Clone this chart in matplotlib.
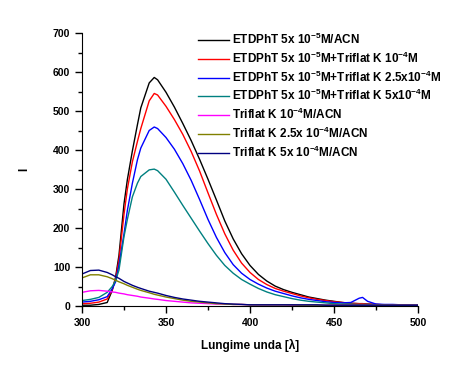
import matplotlib
matplotlib.use('Agg')
import matplotlib.pyplot as plt
from matplotlib.ticker import MultipleLocator

plt.rcParams['font.family'] = 'Liberation Sans'
plt.rcParams['font.weight'] = 'bold'
plt.rcParams['mathtext.fontset'] = 'custom'
plt.rcParams['mathtext.rm'] = 'Liberation Sans:bold'
plt.rcParams['mathtext.default'] = 'rm'

# wavelength grid (nm)
wl = [300, 305, 310, 315, 318, 320, 322, 325, 327, 330, 333, 335, 340, 343,
      345, 350, 355, 360, 365, 370, 375, 380, 385, 390, 395, 400, 405, 410,
      415, 420, 425, 430, 435, 440, 445, 450, 455, 460, 465, 467, 470, 475,
      480, 485, 490, 495, 500]

etd = [2, 2, 4, 9, 40, 74, 130, 262, 324, 398, 465, 508, 572, 586,
       580, 548, 510, 468, 424, 376, 325, 272, 218, 172, 134, 104, 81, 64,
       51, 42, 35, 29, 23, 19, 15, 12, 9, 7, 6, 6, 5, 4,
       3, 3, 2, 2, 2]
etd_k1 = [6, 7, 10, 18, 42, 70, 118, 235, 300, 370, 422, 455, 526, 545,
          541, 512, 478, 440, 396, 346, 290, 235, 185, 143, 110, 86, 68, 55,
          45, 38, 32, 26, 21, 17, 14, 11, 9, 7, 6, 6, 5, 4,
          3, 3, 3, 2, 2]
etd_k25 = [10, 12, 16, 24, 44, 62, 105, 185, 245, 315, 375, 405, 450, 459,
           455, 432, 402, 365, 322, 273, 222, 176, 137, 106, 84, 68, 56, 46,
           38, 32, 26, 21, 17, 14, 11, 9, 8, 9, 20, 22, 12, 5,
           4, 4, 3, 3, 3]
etd_k5 = [14, 17, 22, 35, 50, 65, 92, 178, 222, 280, 315, 332, 349, 351,
          347, 325, 292, 258, 225, 192, 160, 130, 104, 84, 68, 56, 45, 36,
          29, 24, 19, 15, 12, 10, 8, 6, 5, 5, 4, 4, 4, 3,
          3, 2, 2, 2, 2]
k1 = [35, 39, 40, 38, 36, 35, 33, 31, 29, 27, 25, 23, 20, 18,
      17, 14, 12, 10, 8, 7, 6, 5, 5, 4, 4, 3, 3, 3,
      3, 3, 2, 2, 2, 2, 2, 2, 2, 2, 2, 2, 2, 2,
      2, 2, 2, 2, 2]
k25 = [72, 80, 80, 75, 70, 66, 62, 57, 53, 48, 43, 40, 34, 30,
       28, 23, 19, 15, 12, 10, 8, 6, 5, 4, 4, 3, 3, 3,
       3, 3, 3, 2, 2, 2, 2, 2, 2, 2, 2, 2, 2, 2,
       2, 2, 2, 2, 2]
k5 = [82, 91, 92, 86, 80, 75, 71, 63, 59, 53, 48, 45, 38, 35,
      33, 27, 22, 18, 15, 12, 10, 8, 6, 5, 4, 3, 3, 3,
      3, 3, 3, 3, 3, 3, 2, 2, 2, 2, 2, 2, 2, 2,
      2, 2, 2, 2, 2]

labels = [
    'ETDPhT 5x 10$^{-5}$M/ACN',
    'ETDPhT 5x 10$^{-5}$M+Triflat K 10$^{-4}$M',
    'ETDPhT 5x 10$^{-5}$M+Triflat K 2.5x10$^{-4}$M',
    'ETDPhT 5x 10$^{-5}$M+Triflat K 5x10$^{-4}$M',
    'Triflat K 10$^{-4}$M/ACN',
    'Triflat K 2.5x 10$^{-4}$M/ACN',
    'Triflat K 5x 10$^{-4}$M/ACN',
]
colors = ['#000000', '#ff0000', '#0000ff', '#008080', '#ff00ff', '#808000', '#000080']
series = [etd, etd_k1, etd_k25, etd_k5, k1, k25, k5]

fig = plt.figure(figsize=(4.64, 3.74), dpi=100)
ax = fig.add_axes([82 / 464, 1 - 306 / 374, 336 / 464, 273 / 374])

for y, c, lab in zip(series, colors, labels):
    ax.plot(wl, y, color=c, linewidth=1.0, label=lab)

ax.set_xlim(300, 500)
ax.set_ylim(0, 700)
ax.xaxis.set_major_locator(MultipleLocator(50))
ax.xaxis.set_minor_locator(MultipleLocator(25))
ax.yaxis.set_major_locator(MultipleLocator(100))
ax.yaxis.set_minor_locator(MultipleLocator(50))
ax.tick_params(which='major', length=5, width=1, labelsize=7.5, direction='out')
ax.tick_params(which='minor', length=3, width=1, direction='out')
for s in ['top', 'right']:
    ax.spines[s].set_visible(False)

ax.set_xlabel('Lungime unda [λ]', fontsize=8.5, fontweight='bold', labelpad=8)
ax.set_ylabel('I', fontsize=8.5, fontweight='bold')
ax.yaxis.set_label_coords(-0.155, 0.5)

ax.legend(loc='upper left', bbox_to_anchor=(198 / 464, 1 - 32 / 374),
          bbox_transform=fig.transFigure, frameon=False, fontsize=8.5,
          handlelength=2.6, handletextpad=0.3, labelspacing=0.3,
          borderaxespad=0, borderpad=0)

fig.savefig('out.png', dpi=100)
